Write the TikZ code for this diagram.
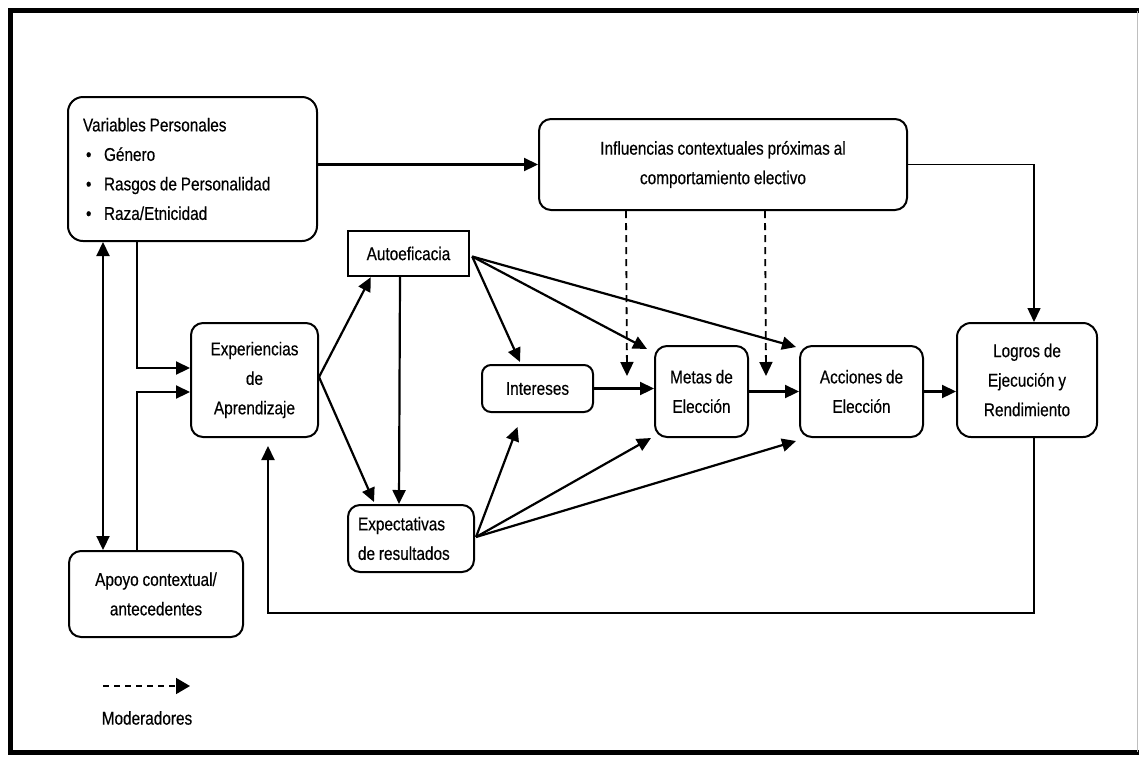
\documentclass[tikz,border=0pt]{standalone}
\usepackage{fontspec}
\setmainfont{Liberation Sans}[FakeStretch=0.83,FakeBold=0.4,WordSpace=0.9]
\usetikzlibrary{calc,arrows.meta}
\begin{document}
\begin{tikzpicture}[x=1pt,y=-1pt,
  txt/.style={font=\fontsize{18.5pt}{29.5pt}\selectfont},
  rbox/.style={txt,draw,line width=2pt,rounded corners=12pt,inner sep=0pt,align=center},
  sbox/.style={txt,draw,line width=2.4pt,inner sep=0pt,align=center},
  tip/.tip={Triangle[length=14pt,width=13pt]},
  arr/.style={line width=2.2pt,-tip},
  darr/.style={line width=2.2pt,tip-tip},
  modarr/.style={line width=1.8pt,dash pattern=on 7pt off 5pt,-tip}]
\useasboundingbox (0,0) rectangle (1139,756);
% frame
\draw[line width=5pt] (1139,10.5) -- (10.5,10.5) -- (10.5,752) -- (1139,752);
\draw[line width=1pt,black!25] (1137,10.5) -- (1137,752);
% boxes
\node[rbox,rounded corners=15pt,minimum width=249pt,minimum height=144pt,text width=219pt,align=left] (var) at (192.5,169)
  {\spaceskip=0pt\xspaceskip=0pt\relax Variables Personales\\
   \makebox[21pt][l]{\hspace*{3pt}\textbullet}Género\\
   \makebox[21pt][l]{\hspace*{3pt}\textbullet}Rasgos de Personalidad\\
   \makebox[21pt][l]{\hspace*{3pt}\textbullet}Raza/Etnicidad};
\node[rbox,minimum width=368pt,minimum height=91pt] (infl) at (723,164.5)
  {Influencias contextuales próximas al\\comportamiento electivo};
\node[sbox,minimum width=121pt,minimum height=45pt] (auto) at (408.5,253.5) {Autoeficacia};
\node[rbox,minimum width=127pt,minimum height=114pt] (exper) at (254.5,380) {Experiencias\\de\\Aprendizaje};
\node[rbox,rounded corners=9pt,minimum width=111pt,minimum height=47pt] (inter) at (537.5,388.5) {Intereses};
\node[rbox,minimum width=93pt,minimum height=91pt] (metas) at (701.5,391.5) {Metas de\\Elección};
\node[rbox,minimum width=123pt,minimum height=91pt] (acc) at (861.5,391.5) {Acciones de\\Elección};
\node[rbox,rounded corners=14pt,minimum width=140pt,minimum height=114pt] (logros) at (1027,380) {Logros de\\Ejecución y\\Rendimiento};
\node[rbox,minimum width=126pt,minimum height=67pt,text width=106pt,align=left] (expec) at (411,538.5) {\spaceskip=0pt\xspaceskip=0pt\relax Expectativas\\de resultados};
\node[rbox,minimum width=174pt,minimum height=86pt] (apoyo) at (156,594) {Apoyo contextual/\\antecedentes};
% connectors
\draw[arr] (var.east |- infl.west) -- (infl.west);
\draw[line width=1.5pt,-tip] (infl.east) -| ($(logros.north)+(7,0)$);
\draw[darr] ($(var.south west)+(36,0)$) -- ($(apoyo.north west)+(35,0)$);
\draw[arr] ($(var.south west)+(70,0)$) |- ($(exper.west)+(0,-12)$);
\draw[arr] ($(apoyo.north west)+(69,0)$) |- ($(exper.west)+(0,12)$);
\draw[arr] ($(exper.east)+(0,-3)$) -- ($(auto.south west)+(24,0)$);
\draw[arr] ($(exper.east)+(0,-3)$) -- ($(expec.north west)+(27,-2)$);
\draw[arr] ($(auto.south)+(-8.5,0)$) -- ($(expec.north west)+(52,0)$);
\coordinate (aout) at ($(auto.east)+(2,3)$);
\draw[arr] (aout) -- ($(inter.north)+(-17.5,-2)$);
\draw[arr] (aout) -- ($(metas.north west)+(-7,4)$);
\draw[arr] (aout) -- ($(acc.north west)+(-3,2)$);
\draw[arr] (inter.east) -- (inter.east -| metas.west);
\draw[arr] (metas.east) -- (acc.west);
\draw[arr] (acc.east) -- (acc.east -| logros.west);
\coordinate (eout) at ($(expec.east)+(1,-1.5)$);
\draw[arr] (eout) -- ($(inter.south)+(-20,14)$);
\draw[arr] (eout) -- ($(metas.south west)+(-3,0)$);
\draw[arr] (eout) -- ($(acc.south west)+(-3,3)$);
\coordinate (m1) at (627,376);
\coordinate (m2) at (766,376);
\draw[modarr] ($(infl.south west)+(88,0)$) -- (m1);
\draw[modarr] ($(infl.south west)+(227,0)$) -- (m2);
\coordinate (fb) at (1034,613);
\draw[arr] ($(logros.south)+(7,0)$) -- (fb) -| ($(exper.south)+(13.5,8)$);
% legend
\coordinate (l1) at (103,686);
\coordinate (l2) at (190,686);
\draw[line width=1.6pt,dash pattern=on 6pt off 5pt,-{Triangle[length=14pt,width=16pt]}] (l1) -- (l2);
\node[txt] (mod) at (147,718) {Moderadores};
\end{tikzpicture}
\end{document}
